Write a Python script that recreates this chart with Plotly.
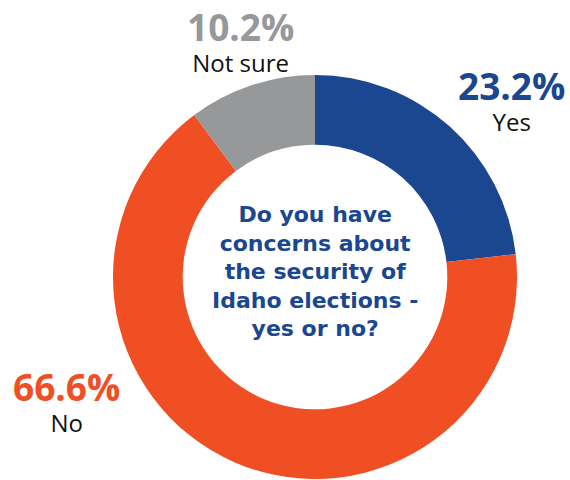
import plotly.graph_objects as go

labels = ["Yes", "No", "Not sure"]
values = [23.2, 66.6, 10.2]
colors = ["#1a478f", "#f04e23", "#96989a"]
question = "Do you have<br>concerns about<br>the security of<br>Idaho elections -<br>yes or no?"

W, H = 570, 480
FONT = "Open Sans"

fig = go.Figure(go.Pie(
    labels=labels, values=values, sort=False, direction="clockwise",
    rotation=0, hole=0.655, textinfo="none", hoverinfo="label+percent",
    marker=dict(colors=colors, line=dict(width=0)),
    domain=dict(x=[113 / W, 517 / W], y=[1 / H, 1 - 75 / H]),
    showlegend=False,
))

# label block centres (pixels from top-left)
pos = {"Yes": (511, 99), "No": (66, 400), "Not sure": (240, 40)}
for lab, val, col in zip(labels, values, colors):
    x, y = pos[lab]
    fig.add_annotation(
        x=x / W, y=1 - y / H, xref="paper", yref="paper",
        text=(f"<span style='font-size:37px;color:{col}'><b>{val:.1f}%</b></span>"
              f"<br>{lab}"),
        showarrow=False, align="center",
        font=dict(family=FONT, size=24, color="#111111"),
        xanchor="center", yanchor="middle")

fig.add_annotation(x=315 / W, y=1 - 271 / H, xref="paper", yref="paper",
                   text=f"<b>{question}</b>", showarrow=False,
                   font=dict(family="DejaVu Sans", size=22, color="#1a478f"),
                   xanchor="center", yanchor="middle", align="center")

fig.update_layout(width=W, height=H, margin=dict(l=0, r=0, t=0, b=0),
                  paper_bgcolor="white", plot_bgcolor="white")
fig.write_html("out.html", config={"displayModeBar": False},
               post_script="document.body.style.margin='0';")
